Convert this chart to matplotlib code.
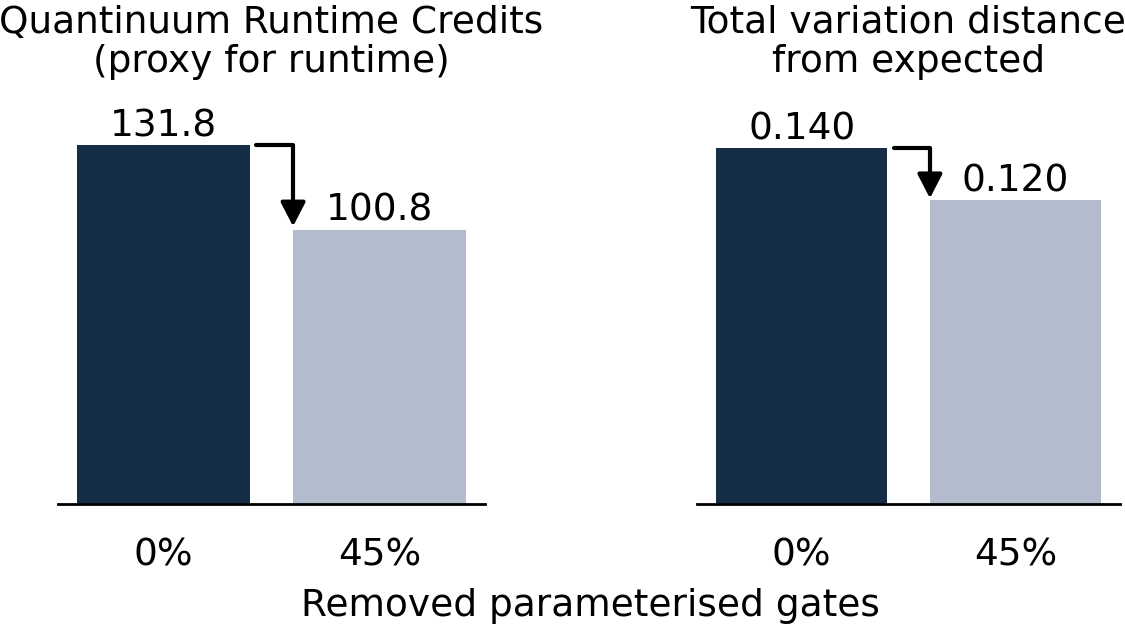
import matplotlib
matplotlib.use("Agg")
import matplotlib.pyplot as plt

categories = ["0%", "45%"]
credits = [131.8, 100.8]
tvd = [0.1402, 0.1196]
credit_labels = ["131.8", "100.8"]
tvd_labels = ["0.140", "0.120"]
titles = ["Quantinuum Runtime Credits\n(proxy for runtime)",
          "Total variation distance\nfrom expected"]
xlabel = "Removed parameterised gates"
colors = ["#152d47", "#b3bccd"]

FS = 27
plt.rcParams['font.family'] = ['DejaVu Sans']

fig = plt.figure(figsize=(11.25, 6.29), dpi=100)
ax1 = fig.add_axes([0.0516, 0.1987, 0.3795, 0.599])
ax2 = fig.add_axes([0.6196, 0.1987, 0.376, 0.599])

def draw(ax, vals, labels, title, tip, ytop):
    x = list(range(len(categories)))
    ax.bar(x, vals, width=0.8, color=colors)
    ax.set_ylim(0, ytop)
    ax.set_xticks(x)
    ax.set_xticklabels(categories, fontsize=FS)
    ax.tick_params(axis='x', length=0, pad=24)
    ax.set_yticks([])
    for s in ['top', 'right', 'left']:
        ax.spines[s].set_visible(False)
    ax.spines['bottom'].set_linewidth(2.0)
    for xi, v, lab in zip(x, vals, labels):
        ax.text(xi, v + max(vals) * 0.002, lab, ha='center', va='bottom', fontsize=FS)
    ax.set_title(title, fontsize=FS, pad=40, linespacing=1.1)
    ax.annotate("", xy=(0.6, tip), xytext=(0.43, vals[0]),
                arrowprops=dict(arrowstyle='-|>,head_length=0.58,head_width=0.30',
                                connectionstyle='angle,angleA=0,angleB=90,rad=0',
                                lw=3, color='black', shrinkA=0, shrinkB=0,
                                mutation_scale=25))

draw(ax1, credits, credit_labels, titles[0], 102.0, 131.8 * 1.05)
draw(ax2, tvd, tvd_labels, titles[1], 0.1205, 0.1402 * 1.05 * 359 / 356)

fig.text(0.525, 0.036, xlabel, ha='center', va='center', fontsize=FS)
fig.savefig("out.png", dpi=100)
